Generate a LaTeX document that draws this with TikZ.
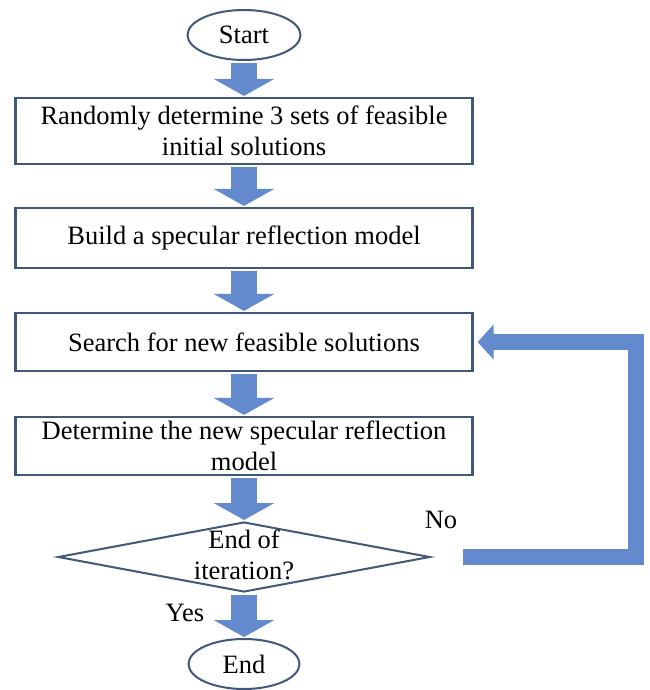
\documentclass[tikz,border=0pt]{standalone}
\usepackage{fontspec}
\setmainfont{Liberation Serif}
\usetikzlibrary{shapes.geometric,arrows.meta}

\definecolor{borde}{RGB}{66,88,122}
\definecolor{flecha}{RGB}{98,138,204}

\tikzset{
    texto/.style={font=\fontsize{26.5}{31}\selectfont, align=center, inner sep=0pt},
    caja/.style={texto, draw=borde, line width=2.2pt, rectangle,
        minimum width=457pt},
    terminal/.style={texto, draw=borde, line width=2pt, ellipse,
        minimum width=113pt, minimum height=50pt},
    rombo/.style={draw=borde, line width=2pt, diamond, inner sep=0pt,
        minimum width=372pt, minimum height=70pt},
    bloque/.style={draw=flecha, line width=26pt,
        -{Triangle[width=60pt,length=17pt]}, shorten <=2pt, shorten >=1pt},
    retorno/.style={draw=flecha, line width=16pt,
        -{Triangle[width=34pt,length=16pt]}, shorten >=4pt}
}

\begin{document}
\begin{tikzpicture}[x=1pt,y=-1pt]
        % Fija el marco del dibujo
        \useasboundingbox (0,0) rectangle (649,690);

        % Define los nodos del diagrama
        \node[terminal] (inicio) at (244,35) {Start};
        \node[caja, minimum height=66pt] (azar) at (244,131)
            {Randomly determine 3 sets of feasible\\initial solutions};
        \node[caja, minimum height=60pt] (modelo) at (244,238)
            {Build a specular reflection model};
        \node[caja, minimum height=58pt] (busca) at (244,342)
            {Search for new feasible solutions};
        \node[caja, minimum height=58pt] (nuevo) at (244,446)
            {Determine the new specular reflection\\model};
        \node[rombo] (fiter) at (244,557) {};
        \node[texto] (pregunta) at (244,555) {End of\\iteration?};
        \node[terminal, minimum width=111pt] (fin) at (244,664) {End};

        % Etiqueta las salidas de la decisión
        \node[texto] (no) at (441,520) {No};
        \node[texto] (si) at (185,613) {Yes};

        % Dibuja las flechas de bloque
        \draw[bloque] (inicio.south) -- (azar.north);
        \draw[bloque] (azar.south) -- (modelo.north);
        \draw[bloque] (modelo.south) -- (busca.north);
        \draw[bloque] (busca.south) -- (nuevo.north);
        \draw[bloque] (nuevo.south) -- (fiter.north);
        \draw[bloque] (fiter.south) -- (fin.north);

        % Dibuja el retorno a la búsqueda
        \coordinate (salida) at (463,557);
        \coordinate (esquina) at (636,557);
        \draw[retorno] (salida) -- (esquina) |- (busca.east);
\end{tikzpicture}
\end{document}
